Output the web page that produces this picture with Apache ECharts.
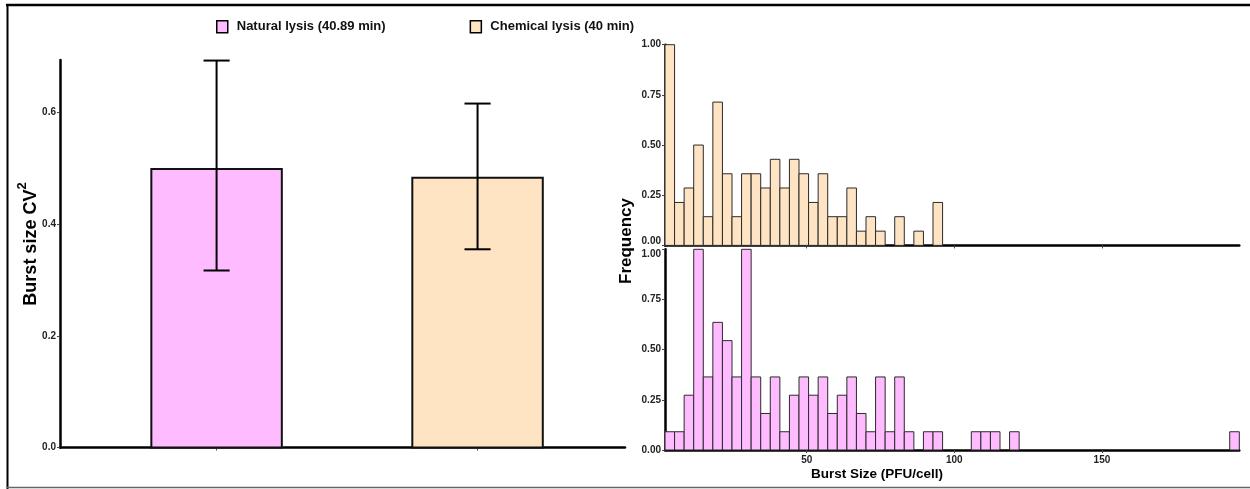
<!DOCTYPE html>
<html lang="en">
<head>
    <meta charset="utf-8">
    <title>Burst size</title>
    <style>
        html, body { margin: 0; padding: 0; background: #fff; }
        #chart { width: 1250px; height: 489px; }
    </style>
</head>
<body>
<div id="chart"></div>
<script src="https://cdn.jsdelivr.net/npm/echarts@6.0.0/dist/echarts.min.js"></script>
<script type="text/javascript">

// groups for the CV^2 bar chart
var groups = ['Natural lysis (40.89 min)', 'Chemical lysis (40 min)'];
var groupColors = ['#FFBBFF', '#FFE4C4'];
var cvMean = [0.499, 0.483];
var cvLow = [0.317, 0.355];
var cvHigh = [0.693, 0.616];

// histogram bins (60 bins over the shared burst size range)
var binMin = 2;
var binWidth = 3.242;
var binCount = 60;

// chemical lysis (top panel), relative frequency per bin
var chemFreq = [
    1, 0.214, 0.286, 0.5, 0.143, 0.714, 0.357, 0.143, 0.357, 0.357,
    0.286, 0.429, 0.286, 0.429, 0.357, 0.214, 0.357, 0.143, 0.143, 0.286,
    0.071, 0.143, 0.071, 0, 0.143, 0, 0.071, 0, 0.214, 0,
    0, 0, 0, 0, 0, 0, 0, 0, 0, 0,
    0, 0, 0, 0, 0, 0, 0, 0, 0, 0,
    0, 0, 0, 0, 0, 0, 0, 0, 0, 0
];
// natural lysis (bottom panel)
var natFreq = [
    0.091, 0.091, 0.273, 1, 0.364, 0.636, 0.545, 0.364, 1, 0.364,
    0.182, 0.364, 0.091, 0.273, 0.364, 0.273, 0.364, 0.182, 0.273, 0.364,
    0.182, 0.091, 0.364, 0.091, 0.364, 0.091, 0, 0.091, 0.091, 0,
    0, 0, 0.091, 0.091, 0.091, 0, 0.091, 0, 0, 0,
    0, 0, 0, 0, 0, 0, 0, 0, 0, 0,
    0, 0, 0, 0, 0, 0, 0, 0, 0, 0.091
];

var cvTicks = [0, 0.2, 0.4, 0.6];
var freqTicks = [0, 0.25, 0.5, 0.75, 1];
var burstTicks = [50, 100, 150];

var FONT = '"Liberation Sans", Arial, sans-serif';

function histData(freq) {
    return freq.map(function (f, i) {
        return [binMin + i * binWidth, binMin + (i + 1) * binWidth, f];
    });
}

function histRender(color) {
    return function (params, api) {
        var f = api.value(2);
        if (!f) return;
        var p0 = api.coord([api.value(0), f]);
        var p1 = api.coord([api.value(1), 0]);
        return {
            type: 'rect',
            shape: { x: p0[0], y: p0[1], width: p1[0] - p0[0], height: p1[1] - p0[1] },
            style: { fill: color, stroke: '#2a2a2a', lineWidth: 1 }
        };
    };
}

function cvRender(color) {
    return function (params, api) {
        var x = api.value(0);
        var top = api.coord([x - 0.25, api.value(1)]);
        var base = api.coord([x + 0.25, 0]);
        var hi = api.coord([x, api.value(3)]);
        var lo = api.coord([x, api.value(2)]);
        var capL = api.coord([x - 0.05, 0])[0];
        var capR = api.coord([x + 0.05, 0])[0];
        var line = { stroke: '#000', lineWidth: 2 };
        return {
            type: 'group',
            children: [
                { type: 'rect', shape: { x: top[0], y: top[1], width: base[0] - top[0], height: base[1] - top[1] },
                  style: { fill: color, stroke: '#111', lineWidth: 2 } },
                { type: 'line', shape: { x1: hi[0], y1: hi[1], x2: lo[0], y2: lo[1] }, style: line },
                { type: 'line', shape: { x1: capL, y1: hi[1], x2: capR, y2: hi[1] }, style: line },
                { type: 'line', shape: { x1: capL, y1: lo[1], x2: capR, y2: lo[1] }, style: line }
            ]
        };
    };
}

var tickLabel = { fontFamily: FONT, fontWeight: 'bold', fontSize: 10, color: '#222' };
var axisLine = { show: true, onZero: false, lineStyle: { color: '#000', width: 2.5 } };
var axisTick = { show: true, length: 3, lineStyle: { color: '#444', width: 1 } };

var histX = function (gi, showLabels) {
    return {
        type: 'value', gridIndex: gi, min: binMin, max: binMin + binCount * binWidth,
        axisLine: axisLine,
        axisTick: Object.assign({ customValues: burstTicks }, axisTick),
        axisLabel: Object.assign({ show: showLabels, customValues: burstTicks, margin: 5 }, tickLabel),
        splitLine: { show: false }
    };
};
// the two panels share a border, so the touching labels are nudged apart
var histY = function (gi, nudgeValue, nudgeStyle) {
    var rich = {};
    rich.n = Object.assign({ padding: nudgeStyle }, tickLabel);
    return {
        type: 'value', gridIndex: gi, min: 0, max: 1,
        axisLine: axisLine,
        axisTick: Object.assign({ customValues: freqTicks }, axisTick),
        axisLabel: Object.assign({ customValues: freqTicks, margin: 4, rich: rich,
            formatter: function (v) {
                var s = v.toFixed(2);
                return v === nudgeValue ? '{n|' + s + '}' : s;
            } }, tickLabel),
        splitLine: { show: false }
    };
};

var chart = echarts.init(document.getElementById('chart'));
var option = {
    animation: false,
    backgroundColor: '#fff',
    legend: {
        left: 211, top: 15, itemWidth: 11, itemHeight: 12, itemGap: 84,
        selectedMode: false,
        textStyle: { fontFamily: FONT, fontWeight: 'bold', fontSize: 13, color: '#111', padding: [0, 0, 0, 4] },
        data: groups.map(function (g, i) {
            return { name: g, icon: 'rect', itemStyle: { color: groupColors[i], borderColor: '#000', borderWidth: 1.5 } };
        })
    },
    grid: [
        { left: 60, top: 60, width: 565, height: 387.5 },
        { left: 665, top: 44.7, width: 574.3, height: 200.7 },
        { left: 665, top: 249.3, width: 574.3, height: 200.7 }
    ],
    xAxis: [
        {
            type: 'value', gridIndex: 0, min: 0.4, max: 2.565,
            axisLine: axisLine,
            axisTick: Object.assign({ customValues: [1, 2] }, axisTick),
            axisLabel: { show: false },
            splitLine: { show: false }
        },
        histX(1, false),
        histX(2, true)
    ],
    yAxis: [
        {
            type: 'value', gridIndex: 0, min: 0, max: 0.694,
            axisLine: axisLine,
            axisTick: Object.assign({ customValues: cvTicks }, axisTick),
            axisLabel: Object.assign({ customValues: cvTicks, margin: 4,
                formatter: function (v) { return v.toFixed(1); } }, tickLabel),
            splitLine: { show: false }
        },
        histY(1, 0, [0, 0, 9, 0]),
        histY(2, 1, [9, 0, 0, 0])
    ],
    series: [
        {
            name: groups[0], type: 'custom', xAxisIndex: 0, yAxisIndex: 0,
            itemStyle: { color: groupColors[0] },
            renderItem: cvRender(groupColors[0]),
            data: [[1, cvMean[0], cvLow[0], cvHigh[0]]]
        },
        {
            name: groups[1], type: 'custom', xAxisIndex: 0, yAxisIndex: 0,
            itemStyle: { color: groupColors[1] },
            renderItem: cvRender(groupColors[1]),
            data: [[2, cvMean[1], cvLow[1], cvHigh[1]]]
        },
        {
            name: groups[1], type: 'custom', xAxisIndex: 1, yAxisIndex: 1,
            itemStyle: { color: groupColors[1] },
            renderItem: histRender(groupColors[1]),
            data: histData(chemFreq)
        },
        {
            name: groups[0], type: 'custom', xAxisIndex: 2, yAxisIndex: 2,
            itemStyle: { color: groupColors[0] },
            renderItem: histRender(groupColors[0]),
            data: histData(natFreq)
        }
    ],
    graphic: [
        // picture frame
        { type: 'line', shape: { x1: 6, y1: 5, x2: 1250, y2: 5 }, style: { stroke: '#000', lineWidth: 2.5 } },
        { type: 'line', shape: { x1: 7.5, y1: 4, x2: 7.5, y2: 489 }, style: { stroke: '#000', lineWidth: 2 } },
        { type: 'line', shape: { x1: 7, y1: 487.5, x2: 1250, y2: 487.5 }, style: { stroke: '#666', lineWidth: 1.5 } },
        {
            type: 'text', x: 28, y: 244, rotation: Math.PI / 2,
            style: {
                text: '{a|Burst size }{a|CV}{s|2}',
                align: 'center', verticalAlign: 'middle',
                rich: {
                    a: { fontFamily: FONT, fontWeight: 'bold', fontSize: 18, fill: '#000', lineHeight: 24, verticalAlign: 'bottom' },
                    s: { fontFamily: FONT, fontWeight: 'bold', fontSize: 13, fill: '#000', lineHeight: 24, verticalAlign: 'top' }
                }
            }
        },
        {
            type: 'text', x: 626, y: 241, rotation: Math.PI / 2,
            style: { text: 'Frequency', fontFamily: FONT, fontWeight: 'bold', fontSize: 17, fill: '#000',
                align: 'center', verticalAlign: 'middle' }
        },
        {
            type: 'text', x: 877, y: 474,
            style: { text: 'Burst Size (PFU/cell)', fontFamily: FONT, fontWeight: 'bold', fontSize: 13.5, fill: '#000',
                align: 'center', verticalAlign: 'middle' }
        }
    ]
};
chart.setOption(option);

</script>
</body>
</html>
